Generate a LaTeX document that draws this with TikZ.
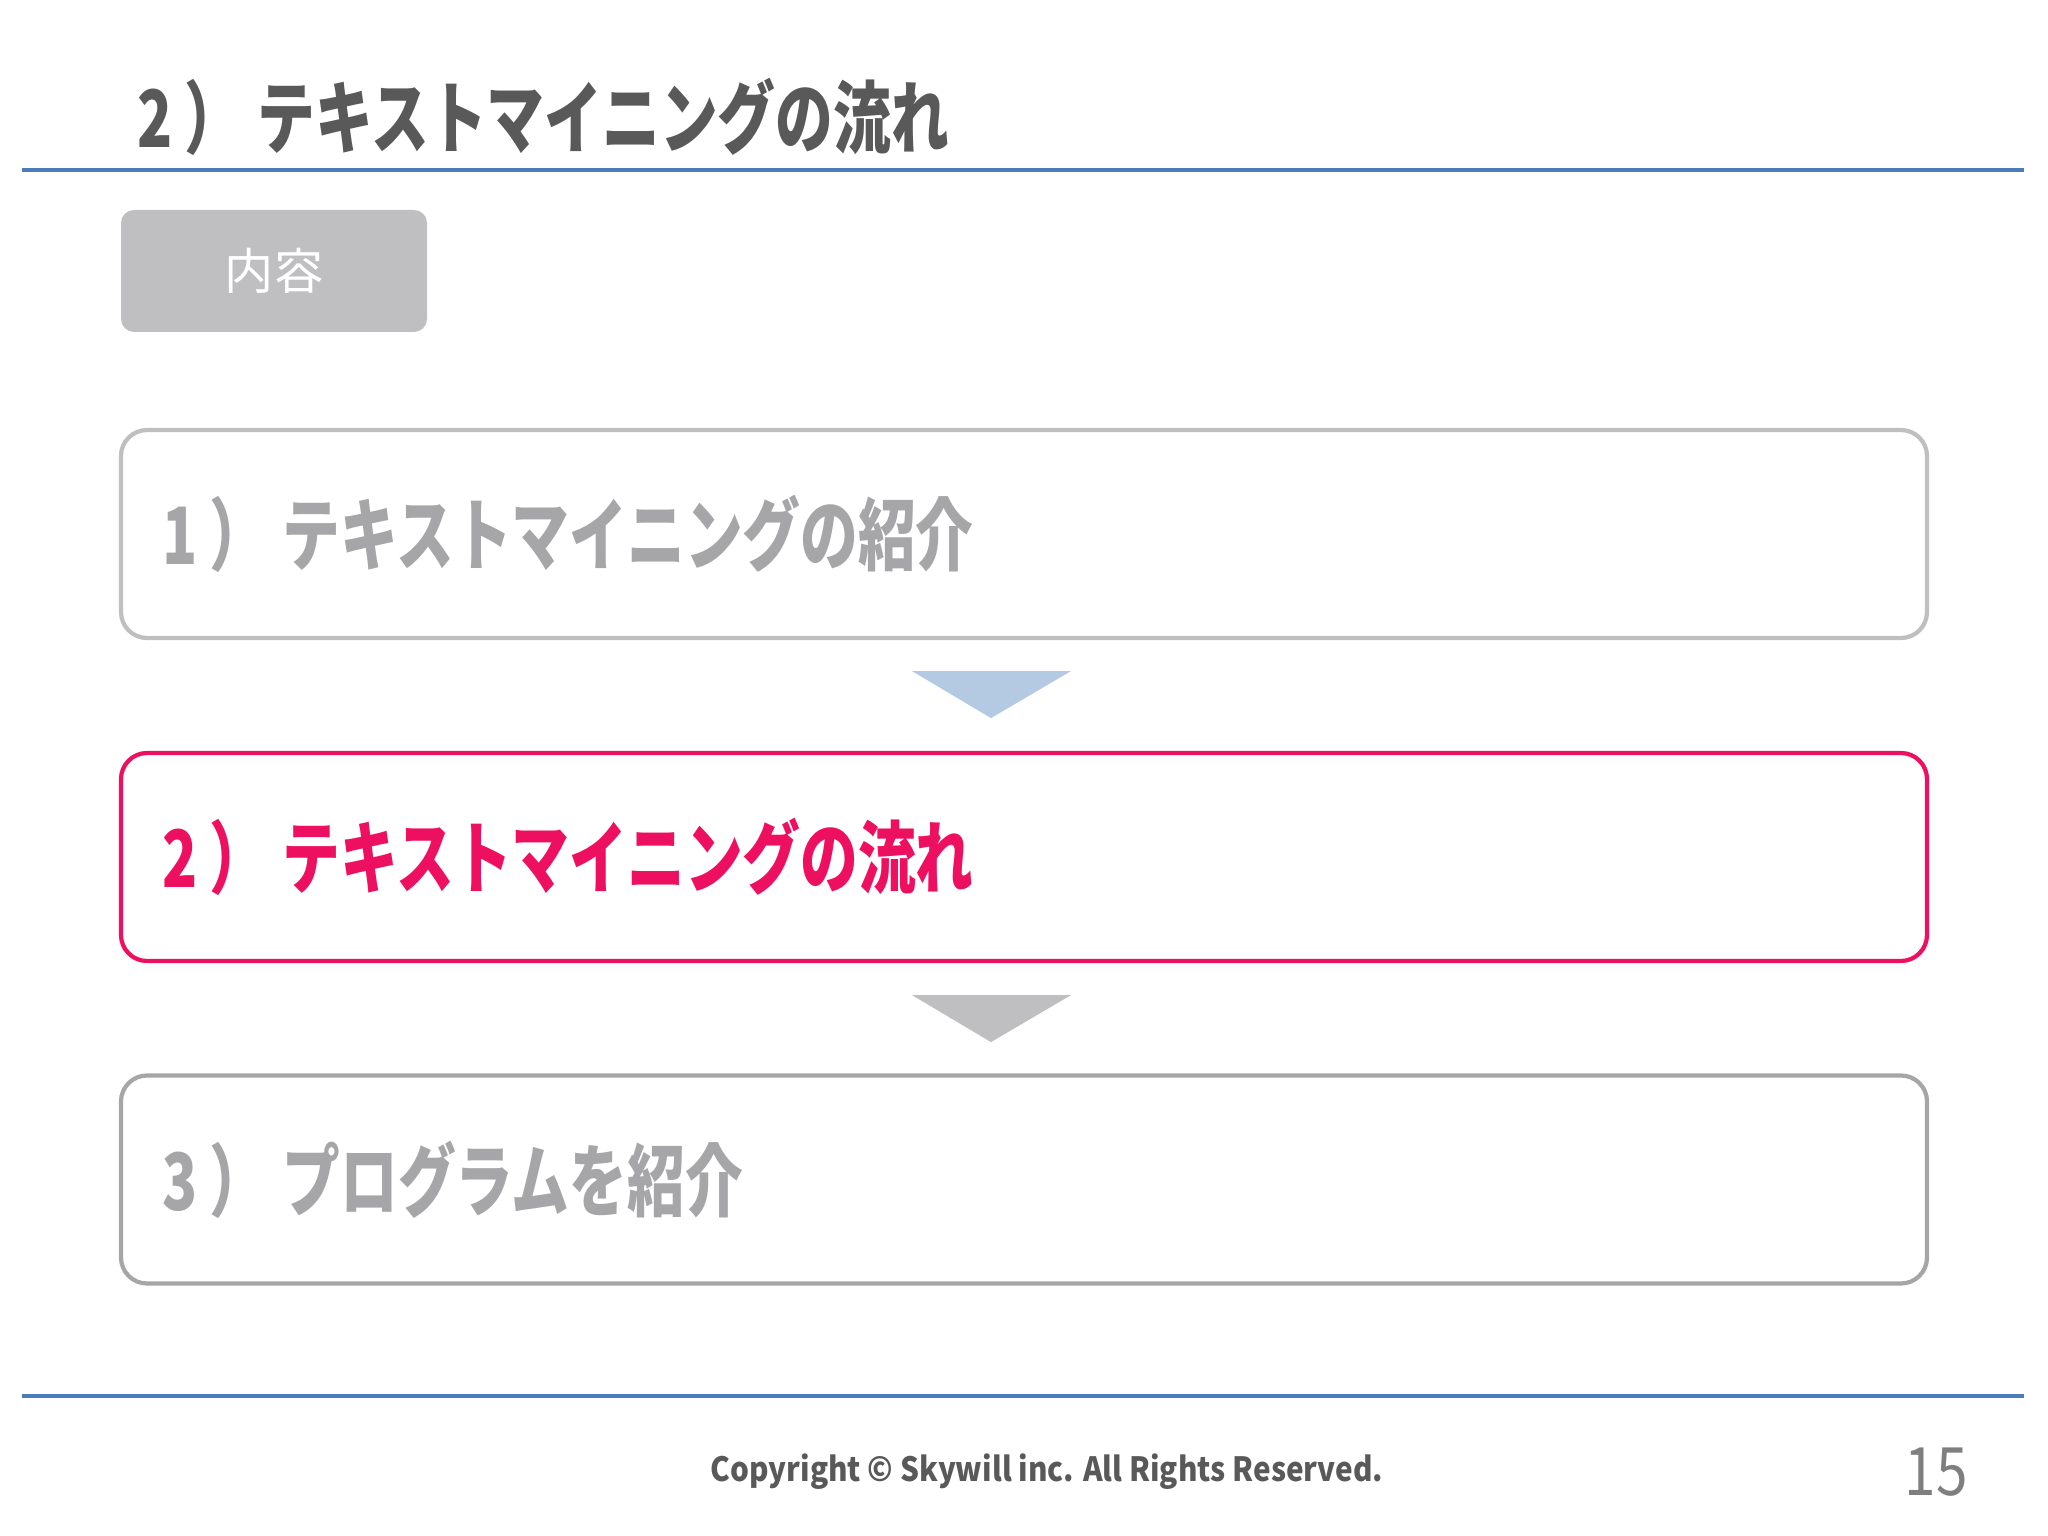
\documentclass[tikz,border=0pt]{standalone}
\usepackage{fontspec}
\usepackage{graphicx}
\setmainfont{Noto Sans CJK JP}
\usetikzlibrary{positioning,calc}
\definecolor{mygray}{RGB}{89,89,89}
\definecolor{myblue}{RGB}{74,126,187}
\definecolor{mypink}{RGB}{238,16,96}
\definecolor{mylight}{RGB}{191,191,193}
\definecolor{mymid}{RGB}{166,166,168}
\definecolor{myarrow}{RGB}{180,202,227}
\definecolor{mynum}{RGB}{127,127,127}
\newcommand{\jpnarrow}[2]{\scalebox{0.73}[1]{#1\kern0.2em）\kern0.27em#2}}

\begin{document}
\begin{tikzpicture}[stepbox/.style={draw,rounded corners=0.26cm,line width=1.2pt,
  minimum width=18.06cm,minimum height=2.08cm,inner sep=0pt},
  steptext/.style={anchor=west,inner sep=0pt,font=\fontsize{22.5}{27}\selectfont\bfseries},
  rule/.style={myblue,line width=1.3pt},
  tagbox/.style={fill=mylight,rounded corners=0.13cm,minimum width=3.06cm,minimum height=1.22cm,
  text=white,font=\fontsize{14}{16}\selectfont}]

 \useasboundingbox (0,0) rectangle (20.48,-15.36);

 % heading
 \node[steptext,text=mygray] (title) at (1.37,-1.17) {\jpnarrow{2}{テキストマイニングの流れ}};
 \coordinate (hl) at (0.22,-1.70);
 \coordinate (hr) at (20.24,-1.70);
 \draw[rule] (hl) -- (hr);

 \node[tagbox] (tag) at (2.74,-2.71) {内容};

 % the three steps
 \node[stepbox,draw=mylight] (box1) at (10.24,-5.34) {};
 \node[stepbox,draw=mypink] (box2) at (10.24,-8.57) {};
 \node[stepbox,draw=mymid] (box3) at (10.24,-11.795) {};

 \node[steptext,text=mymid] (txt1) at ([xshift=0.43cm]box1.west) {\jpnarrow{1}{テキストマイニングの紹介}};
 \node[steptext,text=mypink] (txt2) at ([xshift=0.43cm]box2.west) {\jpnarrow{2}{テキストマイニングの流れ}};
 \node[steptext,text=mymid] (txt3) at ([xshift=0.43cm]box3.west) {\jpnarrow{3}{プログラムを紹介}};

 \fill[myarrow] ($(box1.south)+(-1.12,-0.31)$) -- ++(1.59,0) -- ($(box1.south)+(-0.33,-0.78)$) -- cycle;
 \fill[mylight] ($(box2.south)+(-1.12,-0.32)$) -- ++(1.59,0) -- ($(box2.south)+(-0.33,-0.79)$) -- cycle;

 % footer
 \coordinate (fl) at (0.22,-13.96);
 \coordinate (fr) at (20.24,-13.96);
 \draw[rule] (fl) -- (fr);
 \node[text=mygray,inner sep=0pt,font=\fontsize{9.5}{11}\selectfont\bfseries] (copy) at (10.47,-14.72)
  {\scalebox{0.89}[1]{Copyright © Skywill inc. All Rights Reserved.}};
 \node[text=mynum,inner sep=0pt,font=\fontsize{19}{22}\selectfont] (page) at (19.36,-14.72)
  {\scalebox{0.85}[1]{15}};

\end{tikzpicture}
\end{document}
